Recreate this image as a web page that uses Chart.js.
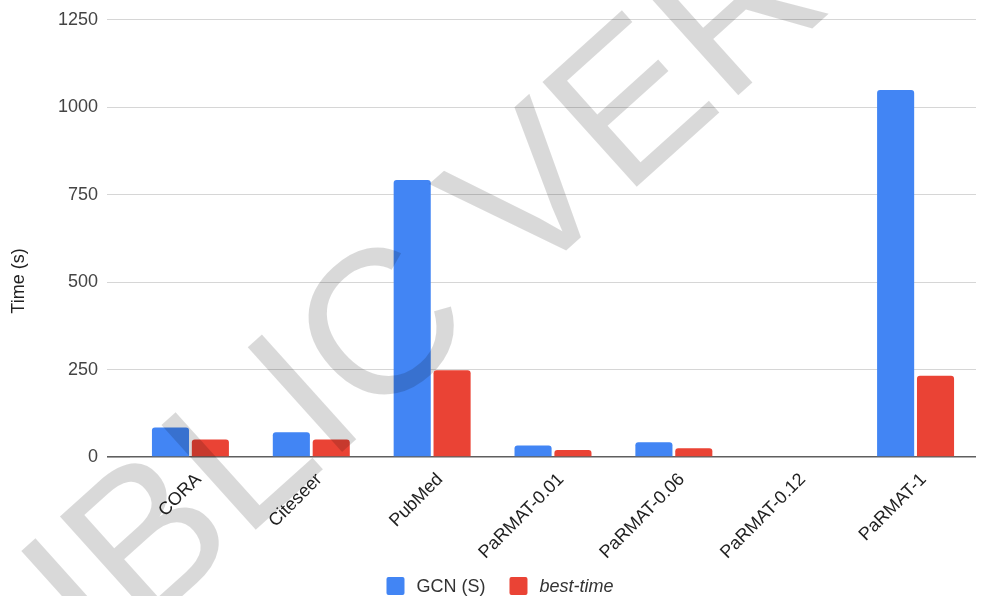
<!DOCTYPE html>
<html>
<head>
<meta charset="utf-8">
<script src="https://cdn.jsdelivr.net/npm/chart.js@4.4.1/dist/chart.umd.min.js"></script>
<style>
  html, body { margin: 0; padding: 0; background: #fff; }
  #wrap { width: 989px; height: 596px; }
</style>
</head>
<body>
<div id="wrap"><canvas id="timeChart" width="989" height="596"></canvas></div>
<script>
// ── data ──────────────────────────────────────────────
const datasetsLabels = ['CORA', 'Citeseer', 'PubMed', 'PaRMAT-0.01', 'PaRMAT-0.06', 'PaRMAT-0.12', 'PaRMAT-1'];
const gcnTimes  = [84, 71, 792, 33, 42, null, 1049];
const bestTimes = [50, 50, 248, 20, 25, null, 232];
const yTicks = [0, 250, 500, 750, 1000, 1250];
const seriesNames = ['GCN (S)', 'best-time'];
const yTitle = 'Time (s)';
const watermark = 'PUBLIC VERSION';

const BLUE = '#4285f4', RED = '#ea4335';
const FONT = '"Liberation Sans", Arial, sans-serif';

// y-axis title, placed like the original (not centred on the plot)
const yTitlePlugin = {
  id: 'yTitle',
  afterDraw(chart) {
    const ctx = chart.ctx;
    ctx.save();
    ctx.translate(19, 281);
    ctx.rotate(-Math.PI / 2);
    ctx.font = '18px ' + FONT;
    ctx.fillStyle = '#222';
    ctx.textAlign = 'center';
    ctx.textBaseline = 'middle';
    ctx.fillText(yTitle, 0, 0);
    ctx.restore();
  }
};

// legend drawn by hand so only the second entry is italic
const legendPlugin = {
  id: 'bottomLegend',
  afterDraw(chart) {
    const ctx = chart.ctx;
    const box = 18, gapText = 12, gapItem = 24, y = 577;
    ctx.save();
    ctx.textBaseline = 'middle';
    const fonts = ['18px ' + FONT, 'italic 18px ' + FONT];
    const widths = seriesNames.map((n, i) => { ctx.font = fonts[i]; return ctx.measureText(n).width; });
    const total = box + gapText + widths[0] + gapItem + box + gapText + widths[1];
    let x = 500 - total / 2;
    chart.data.datasets.forEach((ds, i) => {
      ctx.fillStyle = ds.backgroundColor;
      ctx.beginPath();
      ctx.roundRect(x, y, box, box, 2);
      ctx.fill();
      x += box + gapText;
      ctx.font = fonts[i];
      ctx.fillStyle = '#333';
      ctx.fillText(seriesNames[i], x, y + box / 2 + 1);
      x += widths[i] + gapItem;
    });
    ctx.restore();
  }
};

// faint diagonal watermark over the chart
const watermarkPlugin = {
  id: 'watermark',
  afterDraw(chart) {
    const ctx = chart.ctx;
    ctx.save();
    ctx.translate(-70, 823);
    ctx.rotate(-42 * Math.PI / 180);
    ctx.font = '205px ' + FONT;
    ctx.fillStyle = 'rgba(0,0,0,0.15)';
    ctx.textBaseline = 'alphabetic';
    ctx.fillText(watermark, 0, 0);
    ctx.restore();
  }
};

new Chart(document.getElementById('timeChart'), {
  type: 'bar',
  data: {
    labels: datasetsLabels,
    datasets: [
      { label: seriesNames[0], data: gcnTimes, backgroundColor: BLUE,
        borderRadius: { topLeft: 3, topRight: 3 }, borderSkipped: false,
        categoryPercentage: 0.66, barPercentage: 0.93 },
      { label: seriesNames[1], data: bestTimes, backgroundColor: RED,
        borderRadius: { topLeft: 3, topRight: 3 }, borderSkipped: false,
        categoryPercentage: 0.66, barPercentage: 0.93 },
    ]
  },
  options: {
    responsive: false,
    animation: false,
    layout: { padding: { left: 32, right: 13, top: 19, bottom: 0 } },
    plugins: {
      legend: { display: false },
      tooltip: { enabled: false },
    },
    scales: {
      x: {
        grid: { display: false },
        border: { display: false },
        ticks: {
          color: '#222', font: { size: 18, family: FONT },
          minRotation: 45, maxRotation: 45, padding: 4, labelOffset: 8,
          autoSkip: false,
        },
        afterFit(s) { s.height = 139; },
      },
      y: {
        min: 0, max: 1250,
        afterBuildTicks(s) { s.ticks = yTicks.map(v => ({ value: v })); },
        grid: {
          color: c => c.tick && c.tick.value === 0 ? '#5f5f5f' : '#d6d6d6',
          lineWidth: c => c.tick && c.tick.value === 0 ? 1.6 : 1,
          tickLength: 23,
        },
        border: { display: false },
        ticks: { color: '#444', font: { size: 18, family: FONT }, padding: 9,
                 callback: v => String(v) },
        afterFit(s) { s.width = 98; },
      }
    }
  },
  plugins: [yTitlePlugin, legendPlugin, watermarkPlugin]
});
</script>
</body>
</html>
